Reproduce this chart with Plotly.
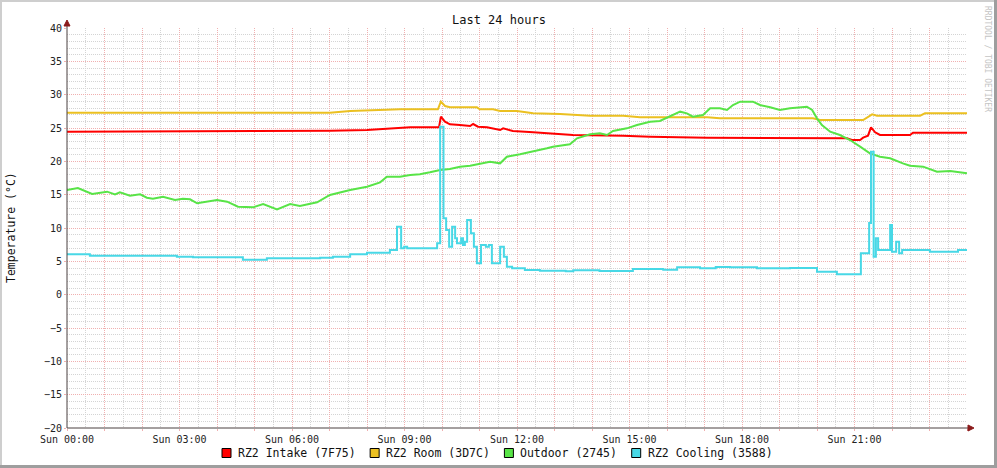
import plotly.graph_objects as go

# ---------------- data ----------------
tick_hours = [0, 3, 6, 9, 12, 15, 18, 21]
tick_labels = ["Sun 00:00", "Sun 03:00", "Sun 06:00", "Sun 09:00",
               "Sun 12:00", "Sun 15:00", "Sun 18:00", "Sun 21:00"]

series_names = ["RZ2 Intake (7F75)", "RZ2 Room (3D7C)", "Outdoor (2745)", "RZ2 Cooling (3588)"]
series_colors = ["#FF0000", "#EBC021", "#58E447", "#48D8E6"]

intake_t = [0, 6.48, 7.01, 8.0, 8.88, 9.15, 9.92, 9.97, 10.08, 10.21, 10.48, 10.75, 10.83,
            10.96, 11.2, 11.36, 11.55, 11.63, 11.89, 12.43, 12.75, 13.49, 14.83, 15.55,
            17.07, 20.16, 20.27, 20.8, 20.93, 21.15, 21.23, 21.36, 21.44, 21.55, 21.68,
            22.48, 22.56, 24.0]
intake_v = [24.45, 24.5, 24.6, 24.7, 24.95, 25.1, 25.1, 26.7, 25.95, 25.55, 25.45, 25.3, 25.6,
            25.2, 25.1, 24.95, 24.7, 24.95, 24.55, 24.35, 24.2, 23.95, 23.85, 23.7,
            23.55, 23.55, 23.45, 23.45, 23.2, 23.2, 23.55, 23.85, 25.1, 24.35, 23.95,
            23.95, 24.3, 24.3]

room_t = [0, 7.01, 7.55, 8.88, 9.89, 9.97, 10.08, 10.21, 10.93, 11.01, 11.36, 11.55, 12.0,
          12.43, 13.15, 13.95, 14.83, 15.28, 17.07, 17.41, 19.89, 20.08, 21.23, 21.33,
          21.47, 21.6, 22.75, 22.88, 24.0]
room_v = [27.3, 27.3, 27.55, 27.8, 27.8, 28.95, 28.3, 28.1, 28.1, 27.8, 27.8, 27.55, 27.55,
          27.2, 27.1, 26.85, 26.85, 26.6, 26.6, 26.45, 26.45, 26.2, 26.2, 26.55,
          27.05, 26.85, 26.85, 27.2, 27.2]

outdoor_t = [0, 0.29, 0.67, 1.07, 1.28, 1.41, 1.68, 1.95, 2.13, 2.29, 2.56, 2.88, 3.09, 3.28,
             3.47, 3.73, 4.0, 4.27, 4.56, 4.96, 5.23, 5.6, 5.95, 6.21, 6.48, 6.67, 7.01,
             7.55, 8.0, 8.35, 8.53, 8.88, 9.15, 9.41, 9.68, 9.95, 10.21, 10.48, 10.75,
             11.01, 11.28, 11.55, 11.73, 12.08, 12.43, 12.8, 12.96, 13.41, 13.6, 13.95,
             14.21, 14.4, 14.56, 14.93, 15.2, 15.55, 15.81, 16.08, 16.35, 16.53, 16.69,
             16.96, 17.15, 17.41, 17.6, 17.76, 17.95, 18.29, 18.48, 18.75, 19.01, 19.28,
             19.55, 19.73, 19.87, 20.0, 20.13, 20.35, 20.61, 20.88, 21.15, 21.41, 21.68,
             21.95, 22.29, 22.48, 22.83, 23.2, 23.55, 24.0]
outdoor_v = [15.7, 16.0, 15.1, 15.45, 15.05, 15.35, 14.85, 15.05, 14.55, 14.4, 14.7, 14.2,
             14.4, 14.3, 13.7, 13.95, 14.2, 13.95, 13.2, 13.1, 13.6, 12.8, 13.6, 13.3,
             13.65, 13.85, 14.95, 15.7, 16.2, 16.85, 17.7, 17.7, 17.95, 18.05, 18.35,
             18.7, 18.85, 19.2, 19.35, 19.7, 19.95, 19.7, 20.7, 21.05, 21.45, 21.95, 22.2,
             22.55, 23.45, 24.05, 24.2, 23.95, 24.55, 24.95, 25.45, 25.95, 26.05, 26.7,
             27.45, 27.2, 26.7, 26.95, 27.95, 27.95, 27.7, 28.45, 28.95, 28.95, 28.45,
             28.1, 27.7, 27.95, 28.1, 28.2, 27.7, 26.45, 25.45, 24.45, 23.95, 23.2, 22.2,
             21.2, 20.7, 20.45, 19.7, 19.35, 19.2, 18.45, 18.55, 18.2]

cooling_t = [0, 0.61, 2.93, 3.36, 4.69, 5.33, 6.75, 7.09, 7.55, 8.0, 8.61, 8.8, 8.91, 8.99,
             9.07, 9.87, 9.95, 10.04, 10.11, 10.19, 10.27, 10.35, 10.4, 10.51, 10.56,
             10.61, 10.67, 10.77, 10.85, 10.93, 11.04, 11.17, 11.25, 11.33, 11.55, 11.65,
             11.73, 11.87, 12.21, 12.61, 13.3, 13.5, 14.2, 15.09, 15.9, 16.27, 16.88,
             17.3, 17.68, 18.4, 19.28, 20.0, 20.53, 21.17, 21.39, 21.44, 21.51, 21.57,
             21.63, 21.95, 22.0, 22.11, 22.19, 22.27, 23.01, 23.76, 24.0]
cooling_v = [6.05, 5.85, 5.7, 5.6, 5.25, 5.45, 5.55, 5.7, 6.05, 6.3, 6.7, 10.2, 6.95, 7.2,
             6.95, 7.7, 25.2, 11.45, 9.7, 7.2, 10.2, 8.45, 7.7, 8.45, 7.45,
             7.95, 11.2, 9.2, 7.2, 4.7, 7.45, 7.2, 7.45, 4.7, 7.2, 5.7,
             4.2, 3.95, 3.7, 3.6, 3.5, 3.65, 3.55, 3.85, 3.75, 4.1, 3.95,
             4.15, 4.1, 3.95, 4.0, 3.45, 3.05, 6.2, 10.75, 21.45, 5.7, 8.45,
             6.7, 10.45, 6.45, 7.95, 6.2, 6.7, 6.45, 6.7, 6.7]

# ---------------- geometry helpers ----------------
W, H = 997, 468
L, R, T, B = 67, 967, 28, 428


def px(xp):
    return (xp - L) / (R - L)


def py(yp):
    return (B - yp) / (B - T)


FONT = "DejaVu Sans Mono"

fig = go.Figure()
data = [(intake_t, intake_v, "linear"), (room_t, room_v, "linear"),
        (outdoor_t, outdoor_v, "linear"), (cooling_t, cooling_v, "hv")]
for (t, v, shape), name, col in zip(data, series_names, series_colors):
    fig.add_trace(go.Scatter(x=t, y=v, mode="lines", name=name, showlegend=False,
                             line=dict(color=col, width=2, shape=shape), hoverinfo="skip"))

major_grid = "#F0B0B0"
minor_grid = "#D4D4D4"

all_hours = list(range(0, 25))
label_map = dict(zip(tick_hours, tick_labels))
fig.update_xaxes(range=[0, 24], tickmode="array", tickvals=all_hours,
                 ticktext=[label_map.get(h, "") for h in all_hours],
                 showgrid=True, gridcolor=major_grid, griddash="1px,1px", gridwidth=1,
                 minor=dict(tick0=0, dtick=0.5, showgrid=True, gridcolor=minor_grid,
                            griddash="1px,1px", gridwidth=1),
                 ticks="outside", ticklen=2, tickcolor=major_grid,
                 showline=False, zeroline=False,
                 tickfont=dict(family=FONT, size=10, color="#222222"))
fig.update_yaxes(range=[-20, 40], tick0=-20, dtick=5,
                 showgrid=True, gridcolor=major_grid, griddash="1px,1px", gridwidth=1,
                 minor=dict(tick0=0, dtick=1, showgrid=True, gridcolor=minor_grid,
                            griddash="1px,1px", gridwidth=1),
                 ticks="outside", ticklen=2, tickcolor=major_grid,
                 showline=False, zeroline=False,
                 tickfont=dict(family=FONT, size=10, color="#222222"))

shapes = []
# frame (3D border)
shapes.append(dict(type="rect", xref="paper", yref="paper", x0=px(0), x1=px(W), y0=py(0), y1=py(2),
                   fillcolor="#CECECE", line=dict(width=0), layer="below"))
shapes.append(dict(type="rect", xref="paper", yref="paper", x0=px(0), x1=px(2), y0=py(0), y1=py(H),
                   fillcolor="#CECECE", line=dict(width=0), layer="below"))
shapes.append(dict(type="rect", xref="paper", yref="paper", x0=px(0), x1=px(W), y0=py(H - 3), y1=py(H),
                   fillcolor="#9E9E9E", line=dict(width=0), layer="below"))
shapes.append(dict(type="rect", xref="paper", yref="paper", x0=px(W - 3), x1=px(W), y0=py(0), y1=py(H),
                   fillcolor="#9E9E9E", line=dict(width=0), layer="below"))
# axes
axis_col = "#4A4040"
arrow_col = "#8B1A1A"
shapes.append(dict(type="line", xref="paper", yref="paper", x0=px(L), x1=px(L), y0=py(B), y1=py(22),
                   line=dict(color=axis_col, width=1)))
shapes.append(dict(type="line", xref="paper", yref="paper", x0=px(L), x1=px(970), y0=py(B), y1=py(B),
                   line=dict(color=axis_col, width=1)))
shapes.append(dict(type="path", xref="paper", yref="paper",
                   path=f"M {px(64)} {py(26)} L {px(67)} {py(20)} L {px(70)} {py(26)} Z",
                   fillcolor=arrow_col, line=dict(color=arrow_col, width=1)))
shapes.append(dict(type="path", xref="paper", yref="paper",
                   path=f"M {px(968)} {py(425)} L {px(974)} {py(428)} L {px(968)} {py(431)} Z",
                   fillcolor=arrow_col, line=dict(color=arrow_col, width=1)))

annotations = []
annotations.append(dict(text="Last 24 hours", xref="paper", yref="paper", x=px(498.5), y=py(20),
                        xanchor="center", yanchor="middle", showarrow=False,
                        font=dict(family=FONT, size=12, color="#111111")))
annotations.append(dict(text="Temperature (°C)", xref="paper", yref="paper", x=px(11), y=py(228),
                        xanchor="center", yanchor="middle", showarrow=False, textangle=-90,
                        font=dict(family=FONT, size=11.5, color="#111111")))
annotations.append(dict(text="RRDTOOL / TOBI OETIKER", xref="paper", yref="paper", x=px(987), y=py(4),
                        xanchor="center", yanchor="top", showarrow=False, textangle=90,
                        font=dict(family=FONT, size=8, color="#C4C4C4")))

# legend (RRDtool style): square + label
char_w = 6.95
xpos = 222
for name, col in zip(series_names, series_colors):
    shapes.append(dict(type="rect", xref="paper", yref="paper", x0=px(xpos), x1=px(xpos + 9),
                       y0=py(448.5), y1=py(457.5), fillcolor=col, line=dict(color="#000000", width=1)))
    annotations.append(dict(text=name, xref="paper", yref="paper", x=px(xpos + 14), y=py(453),
                            xanchor="left", yanchor="middle", showarrow=False,
                            font=dict(family=FONT, size=11.5, color="#111111")))
    xpos += 14 + len(name) * char_w + 16

fig.update_layout(width=W, height=H, margin=dict(l=L, r=W - R, t=T, b=H - B),
                  paper_bgcolor="#FFFFFF", plot_bgcolor="#FFFFFF",
                  shapes=shapes, annotations=annotations, showlegend=False)

fig.write_html("out.html", config={"displayModeBar": False},
               post_script="document.body.style.margin='0';document.body.style.overflow='hidden';")
